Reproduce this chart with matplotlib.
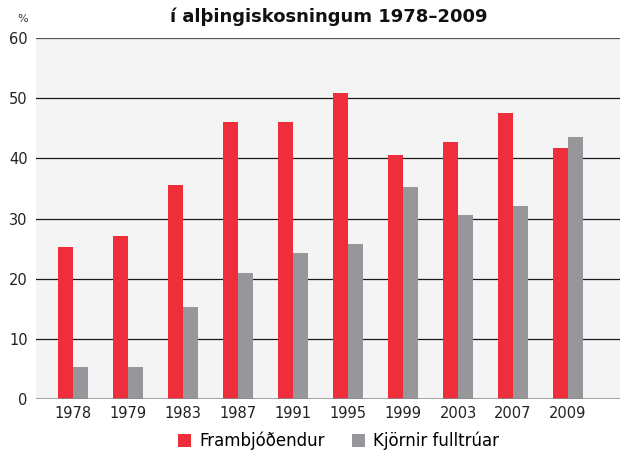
import numpy as np
import matplotlib.pyplot as plt

years = ['1978', '1979', '1983', '1987', '1991', '1995', '1999', '2003', '2007', '2009']
frambjodendur = [25.2, 27.1, 35.5, 46.0, 46.0, 50.8, 40.6, 42.8, 47.6, 41.8]
kjornir = [5.3, 5.3, 15.3, 21.0, 24.2, 25.8, 35.3, 30.6, 32.1, 43.5]

red = '#ee2e3a'
grey = '#97979b'

fig = plt.figure(figsize=(6.21, 4.53), dpi=100)
ax = fig.add_axes([0.058, 0.119, 0.94, 0.797])
ax.set_facecolor('#f4f4f4')

x = np.arange(len(years))
w = 0.27
ax.bar(x - w / 2, frambjodendur, w, color=red, label='Frambjóðendur', zorder=3)
ax.bar(x + w / 2, kjornir, w, color=grey, label='Kjörnir fulltrúar', zorder=3)

ax.set_xlim(-0.67, 9.94)
ax.set_ylim(0, 60)
ax.set_yticks(range(0, 61, 10))
ax.set_xticks(x)
ax.set_xticklabels(years)
ax.tick_params(axis='both', length=0, labelsize=10.5, colors='#222222')
ax.tick_params(axis='y', pad=6)
ax.tick_params(axis='x', pad=5)

# gridlines drawn by hand, top one a bit lighter
for v in range(10, 61, 10):
    ax.axhline(v, color='#555555' if v == 60 else '#1a1a1a', lw=0.9, zorder=2)
ax.axhline(0, color='#8a8a8a', lw=1.8, zorder=4)
for s in ax.spines.values():
    s.set_visible(False)

fig.text(0.028, 0.957, '%', fontsize=8, color='#333333', ha='left', va='center')
fig.text(0.53, 0.962, 'í alþingiskosningum 1978–2009', fontsize=13, fontweight='bold',
         ha='center', va='center', color='#111111')

fig.legend(loc='center', bbox_to_anchor=(0.545, 0.027), ncol=2, frameon=False,
           fontsize=12, handlelength=0.8, handleheight=0.8, columnspacing=1.6,
           handletextpad=0.5)

fig.savefig('out.png', dpi=100, facecolor='white')
